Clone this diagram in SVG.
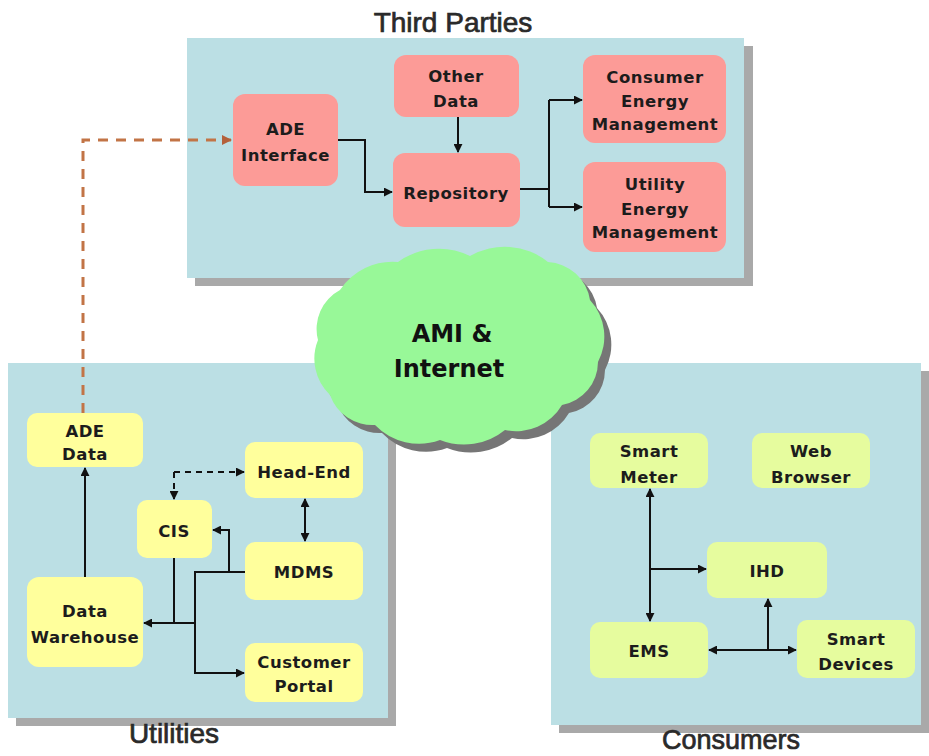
<svg xmlns="http://www.w3.org/2000/svg" width="929" height="756" viewBox="0 0 929 756">
<defs>
<style>
.panel{fill:#bbdfe4}
.shadow{fill:#a9a9a9}
.tp{fill:#fc9b97}
.ut{fill:#ffff9c}
.co{fill:#e6fc9e}
.lbl{font-family:"DejaVu Sans",Verdana,sans-serif;font-weight:bold;font-size:16.5px;letter-spacing:0.5px;fill:#1c1c1c;text-anchor:middle}
.title{font-family:"Liberation Sans",Arial,sans-serif;font-size:28px;fill:#2a2a2a;stroke:#2a2a2a;stroke-width:0.7px;text-anchor:middle}
.cloudtxt{font-family:"DejaVu Sans",Verdana,sans-serif;font-weight:bold;font-size:24px;fill:#111;text-anchor:middle}
.ln{fill:none;stroke:#111;stroke-width:2}
.dash{fill:none;stroke:#111;stroke-width:2;stroke-dasharray:6 5}
.odash{fill:none;stroke:#c27446;stroke-width:3;stroke-dasharray:10 8}
</style>
<marker id="ah" viewBox="0 0 10 10" refX="9" refY="5" markerWidth="9" markerHeight="9" markerUnits="userSpaceOnUse" orient="auto-start-reverse">
<path d="M0,0 L10,5 L0,10 Z" fill="#111"/>
</marker>
<marker id="aho" viewBox="0 0 10 10" refX="9" refY="5" markerWidth="10" markerHeight="10" markerUnits="userSpaceOnUse" orient="auto">
<path d="M0,0 L10,5 L0,10 Z" fill="#b4603a"/>
</marker>
<path id="cloudShape" d="M340,290 A63,63 0 0 1 398,262 A70,70 0 0 1 470,256 A69,69 0 0 1 548,262 A45,45 0 0 1 590,300 A54,54 0 0 1 598,362 A44,44 0 0 1 562,405 A53,53 0 0 1 505,430 A65,65 0 0 1 440,440 A61,61 0 0 1 375,425 A45,45 0 0 1 330,395 A50,50 0 0 1 318,340 A44,44 0 0 1 340,290 Z"/>
</defs>
<rect width="929" height="756" fill="#fff"/>

<g id="panel-third-parties">
<rect class="shadow" x="195" y="46" width="558" height="240"/>
<rect class="panel" x="187" y="38" width="557" height="240"/>
<text class="title" x="453" y="32">Third Parties</text>
</g>
<g id="panel-utilities">
<rect class="shadow" x="16" y="371" width="380" height="355"/>
<rect class="panel" x="8" y="363" width="380" height="355"/>
<text class="title" x="174" y="743">Utilities</text>
</g>
<g id="panel-consumers">
<rect class="shadow" x="559" y="371" width="370" height="362"/>
<rect class="panel" x="551" y="363" width="370" height="362"/>
<text class="title" x="731" y="749" style="font-size:27px">Consumers</text>
</g>

<g id="cloud">
<use href="#cloudShape" fill="#767676" transform="translate(7,8)"/>
<use href="#cloudShape" fill="#98f898"/>
<text class="cloudtxt" x="452" y="342">AMI &amp;</text>
<text class="cloudtxt" x="449" y="377">Internet</text>
</g>

<g id="node-ade-interface"><rect class="tp" x="233" y="94" width="105" height="92" rx="12"/><text class="lbl" x="285.5" y="135">ADE</text><text class="lbl" x="285.5" y="161">Interface</text></g>
<g id="node-other-data"><rect class="tp" x="394" y="55" width="125" height="62" rx="12"/><text class="lbl" x="456" y="82">Other</text><text class="lbl" x="456" y="107">Data</text></g>
<g id="node-repository"><rect class="tp" x="393" y="153" width="127" height="74" rx="12"/><text class="lbl" x="456" y="199">Repository</text></g>
<g id="node-consumer-em"><rect class="tp" x="583" y="55" width="143" height="88" rx="12"/><text class="lbl" x="655" y="83">Consumer</text><text class="lbl" x="655" y="107">Energy</text><text class="lbl" x="655" y="130">Management</text></g>
<g id="node-utility-em"><rect class="tp" x="583" y="162" width="143" height="90" rx="12"/><text class="lbl" x="655" y="190">Utility</text><text class="lbl" x="655" y="215">Energy</text><text class="lbl" x="655" y="238">Management</text></g>

<g id="node-ade-data"><rect class="ut" x="27" y="413" width="116" height="54" rx="10"/><text class="lbl" x="85" y="437">ADE</text><text class="lbl" x="85" y="460">Data</text></g>
<g id="node-head-end"><rect class="ut" x="245" y="442" width="118" height="56" rx="10"/><text class="lbl" x="304" y="478">Head-End</text></g>
<g id="node-cis"><rect class="ut" x="137" y="500" width="75" height="58" rx="10"/><text class="lbl" x="174" y="537">CIS</text></g>
<g id="node-mdms"><rect class="ut" x="245" y="542" width="118" height="58" rx="10"/><text class="lbl" x="304" y="578">MDMS</text></g>
<g id="node-data-warehouse"><rect class="ut" x="27" y="577" width="116" height="90" rx="12"/><text class="lbl" x="85" y="617">Data</text><text class="lbl" x="85" y="643">Warehouse</text></g>
<g id="node-customer-portal"><rect class="ut" x="245" y="643" width="118" height="59" rx="10"/><text class="lbl" x="304" y="668">Customer</text><text class="lbl" x="304" y="692">Portal</text></g>

<g id="node-smart-meter"><rect class="co" x="590" y="433" width="118" height="55" rx="10"/><text class="lbl" x="649" y="457">Smart</text><text class="lbl" x="649" y="483">Meter</text></g>
<g id="node-web-browser"><rect class="co" x="752" y="433" width="118" height="55" rx="10"/><text class="lbl" x="811" y="457">Web</text><text class="lbl" x="811" y="483">Browser</text></g>
<g id="node-ihd"><rect class="co" x="707" y="542" width="120" height="56" rx="10"/><text class="lbl" x="767" y="577">IHD</text></g>
<g id="node-ems"><rect class="co" x="590" y="622" width="118" height="56" rx="10"/><text class="lbl" x="649" y="657">EMS</text></g>
<g id="node-smart-devices"><rect class="co" x="797" y="620" width="118" height="58" rx="10"/><text class="lbl" x="856" y="645">Smart</text><text class="lbl" x="856" y="670">Devices</text></g>

<g id="connectors">
<path class="odash" d="M83,413 V140 H231" marker-end="url(#aho)"/>
<path class="ln" d="M338,140 H365 V192 H392" marker-end="url(#ah)"/>
<path class="ln" d="M458,117 V152" marker-end="url(#ah)"/>
<path class="ln" d="M520,189 H549"/>
<path class="ln" d="M549,100 V207"/>
<path class="ln" d="M549,100 H582" marker-end="url(#ah)"/>
<path class="ln" d="M549,207 H582" marker-end="url(#ah)"/>

<path class="ln" d="M85,577 V468" marker-end="url(#ah)"/>
<path class="dash" d="M174,472 H244" marker-end="url(#ah)"/>
<path class="dash" d="M174,472 V499" marker-end="url(#ah)"/>
<path class="ln" d="M305,499 V541" marker-start="url(#ah)" marker-end="url(#ah)"/>
<path class="ln" d="M245,572 H195 V673 H244" marker-end="url(#ah)"/>
<path class="ln" d="M229,572 V530 H213" marker-end="url(#ah)"/>
<path class="ln" d="M174,558 V623"/>
<path class="ln" d="M195,623 H144" marker-end="url(#ah)"/>

<path class="ln" d="M650,489 V621" marker-start="url(#ah)" marker-end="url(#ah)"/>
<path class="ln" d="M650,569 H706" marker-end="url(#ah)"/>
<path class="ln" d="M709,650 H796" marker-start="url(#ah)" marker-end="url(#ah)"/>
<path class="ln" d="M768,650 V599" marker-end="url(#ah)"/>
</g>
</svg>
